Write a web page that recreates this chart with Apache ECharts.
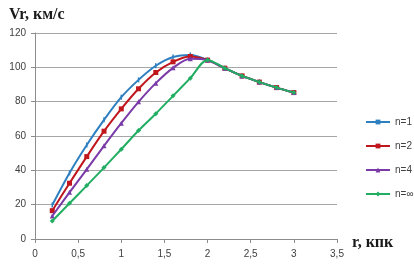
<!DOCTYPE html>
<html><head><meta charset="utf-8">
<script src="https://cdn.jsdelivr.net/npm/echarts@6/dist/echarts.min.js"></script>
<style>html,body{margin:0;padding:0;background:#fff}#c{width:414px;height:275px}</style>
</head><body><div id="c"></div>
<script>
const rValues = [0.2,0.4,0.6,0.8,1.0,1.2,1.4,1.6,1.8,2.0,2.2,2.4,2.6,2.8,3.0];
const vN1   = [19.8,38.5,54.8,69.4,82.6,92.7,100.9,106,107.2,104.2,99.5,95,91.4,88.2,85.3];
const vN2   = [16.5,32.5,48,62.8,75.8,87.5,97,103.2,106.3,104.2,99.5,95,91.4,88.2,85.3];
const vN4   = [13.4,27.2,40.6,54.3,67.5,79.9,90.8,99.7,105,104.2,99.5,95,91.4,88.2,85.3];
const vNinf = [10.5,20.8,31.1,41.6,52.3,63.2,73,83.4,93.7,104.3,99.5,95,91.4,88.2,85.3];
const seriesNames = ['n=1','n=2','n=4','n=∞'];
const yTicks = [0,20,40,60,80,100,120];

const colors = ['#2d7fc1','#c0161d','#7a3aa8','#22ae62'];
const symbols = ['rect','rect','triangle','diamond'];
const symSizes = [[1.5,5],5,5,5];
const allData = [vN1,vN2,vN4,vNinf];

const chart = echarts.init(document.getElementById('c'));
chart.setOption({
  animation:false,
  title:{text:'Vr, км/с',left:4,top:2,textStyle:{fontFamily:'Liberation Serif',fontWeight:'bold',fontSize:16,color:'#1a1a1a'}},
  graphic:[{type:'text',left:352,top:235,style:{text:'r, кпк',font:'bold 16px "Liberation Serif"',fill:'#1a1a1a'}}],
  legend:{orient:'vertical',left:360,top:112,itemWidth:24,itemHeight:6,itemGap:14,
    textStyle:{fontSize:10,color:'#404040',fontFamily:'Liberation Sans'},data:seriesNames},
  grid:{left:35,right:77,top:33,bottom:36},
  xAxis:{type:'value',min:0,max:3.5,interval:0.5,
    axisLine:{lineStyle:{color:'#8c8c8c'}},
    axisTick:{show:true,length:4,lineStyle:{color:'#8c8c8c'}},
    splitLine:{show:false},
    axisLabel:{fontSize:10,color:'#404040',margin:10,fontFamily:'Liberation Sans',formatter:v=>String(v).replace('.',',')}},
  yAxis:{type:'value',min:0,max:120,interval:20,
    axisLine:{show:true,lineStyle:{color:'#8c8c8c'}},
    axisTick:{show:true,length:4,lineStyle:{color:'#8c8c8c'}},
    splitLine:{lineStyle:{color:'#a6a6a6'}},
    axisLabel:{fontSize:10,color:'#404040',margin:9,fontFamily:'Liberation Sans'}},
  series: seriesNames.map((n,i)=>({
    name:n,type:'line',smooth:0.3,
    data:rValues.map((r,j)=>[r,allData[i][j]]),
    symbol:symbols[i],symbolSize:symSizes[i],showSymbol:true,
    lineStyle:{width:2,color:colors[i]},
    itemStyle:{color:colors[i]},
    z: 2+i
  }))
});
</script></body></html>
